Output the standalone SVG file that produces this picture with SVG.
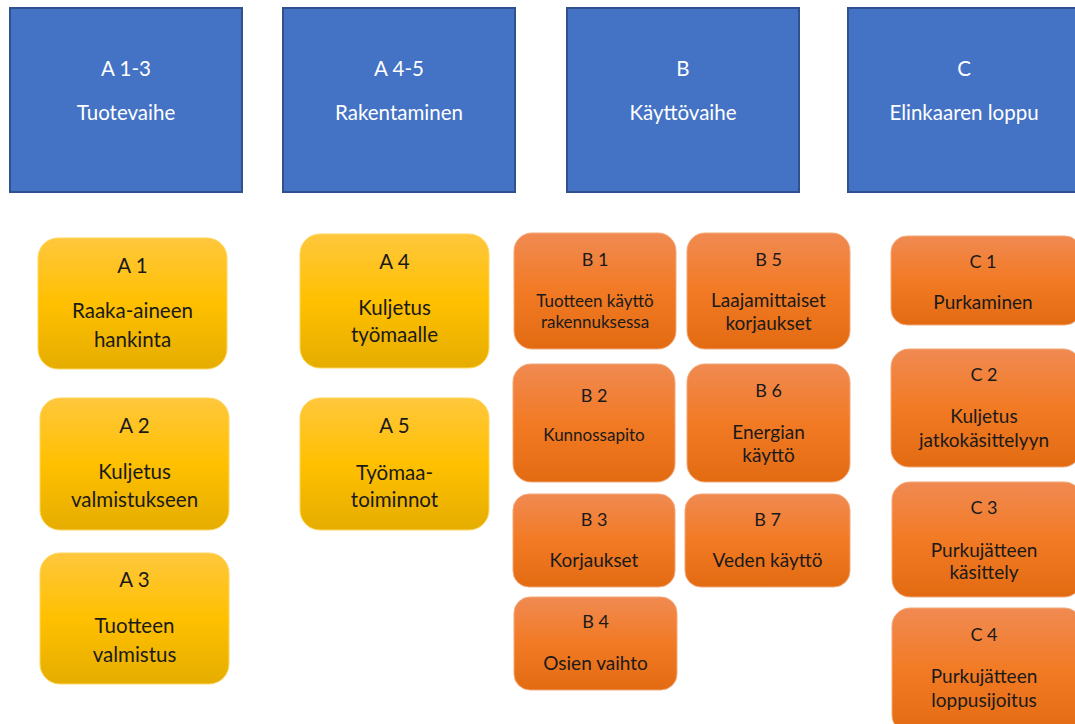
<svg xmlns="http://www.w3.org/2000/svg" width="1075" height="724" viewBox="0 0 1075 724">
<defs>
<linearGradient id="gy" x1="0" y1="0" x2="0" y2="1">
<stop offset="0" stop-color="#FFC73D"/>
<stop offset="0.5" stop-color="#FFC000"/>
<stop offset="1" stop-color="#E5AD00"/>
</linearGradient>
<linearGradient id="go" x1="0" y1="0" x2="0" y2="1">
<stop offset="0" stop-color="#F08A52"/>
<stop offset="0.5" stop-color="#F27A24"/>
<stop offset="1" stop-color="#E26B12"/>
</linearGradient>
<style>
.blue{fill:#4472C4;stroke:#2F528F;stroke-width:2}
.yel{fill:url(#gy);stroke:#FFD65E;stroke-width:1}
.ora{fill:url(#go);stroke:#F3A878;stroke-width:1}
text{font-family:Lato,"Liberation Sans",sans-serif;text-anchor:middle}
.wt{fill:#FFFFFF;font-size:20.5px}
.yt{fill:#1A1A1A;font-size:20.5px}
.ol{fill:#1A1A1A;font-size:18px}
.ot{fill:#1A1A1A;font-size:19px}
.os{fill:#1A1A1A;font-size:17px}
</style>
</defs>
<rect width="1075" height="724" fill="#FFFFFF"/>
<g id="connectors"/>
<g id="phase-A13">
<rect class="blue" x="10" y="8" width="232" height="184"/>
<text class="wt" x="126" y="76">A 1-3</text>
<text class="wt" x="126" y="120">Tuotevaihe</text>
</g>
<g id="phase-A45">
<rect class="blue" x="283" y="8" width="232" height="184"/>
<text class="wt" x="399" y="76">A 4-5</text>
<text class="wt" x="399" y="120">Rakentaminen</text>
</g>
<g id="phase-B">
<rect class="blue" x="567" y="8" width="232" height="184"/>
<text class="wt" x="683" y="76">B</text>
<text class="wt" x="683" y="120">Käyttövaihe</text>
</g>
<g id="phase-C">
<rect class="blue" x="848" y="8" width="232" height="184"/>
<text class="wt" x="964" y="76">C</text>
<text class="wt" x="964" y="120">Elinkaaren loppu</text>
</g>
<g id="A1">
<rect class="yel" x="38" y="238" width="189" height="131" rx="20"/>
<text class="yt" x="132.5" y="273">A 1</text>
<text class="yt" x="132.5" y="318">Raaka-aineen</text>
<text class="yt" x="132.5" y="347">hankinta</text>
</g>
<g id="A2">
<rect class="yel" x="40" y="398" width="189" height="132" rx="20"/>
<text class="yt" x="134.5" y="433">A 2</text>
<text class="yt" x="134.5" y="479">Kuljetus</text>
<text class="yt" x="134.5" y="507">valmistukseen</text>
</g>
<g id="A3">
<rect class="yel" x="40" y="553" width="189" height="131" rx="20"/>
<text class="yt" x="134.5" y="587">A 3</text>
<text class="yt" x="134.5" y="633">Tuotteen</text>
<text class="yt" x="134.5" y="662">valmistus</text>
</g>
<g id="A4">
<rect class="yel" x="300" y="234" width="189" height="134" rx="20"/>
<text class="yt" x="394.5" y="269">A 4</text>
<text class="yt" x="394.5" y="315">Kuljetus</text>
<text class="yt" x="394.5" y="342">työmaalle</text>
</g>
<g id="A5">
<rect class="yel" x="300" y="398" width="189" height="132" rx="20"/>
<text class="yt" x="394.5" y="433">A 5</text>
<text class="yt" x="394.5" y="480">Työmaa-</text>
<text class="yt" x="394.5" y="507">toiminnot</text>
</g>
<g id="B1">
<rect class="ora" x="514" y="233" width="162" height="116" rx="18"/>
<text class="ol" x="595" y="266">B 1</text>
<text class="os" x="595" y="307">Tuotteen käyttö</text>
<text class="os" x="595" y="328">rakennuksessa</text>
</g>
<g id="B2">
<rect class="ora" x="513" y="364" width="162" height="118" rx="18"/>
<text class="ol" x="594" y="402">B 2</text>
<text class="os" x="594" y="441">Kunnossapito</text>
</g>
<g id="B3">
<rect class="ora" x="513" y="494" width="162" height="93" rx="16"/>
<text class="ol" x="594" y="526">B 3</text>
<text class="ot" x="594" y="567">Korjaukset</text>
</g>
<g id="B4">
<rect class="ora" x="514" y="597" width="163" height="93" rx="16"/>
<text class="ol" x="595.5" y="628">B 4</text>
<text class="ot" x="595.5" y="670">Osien vaihto</text>
</g>
<g id="B5">
<rect class="ora" x="687" y="233" width="163" height="116" rx="18"/>
<text class="ol" x="768.5" y="266">B 5</text>
<text class="ot" x="768.5" y="307">Laajamittaiset</text>
<text class="ot" x="768.5" y="330">korjaukset</text>
</g>
<g id="B6">
<rect class="ora" x="687" y="364" width="163" height="118" rx="18"/>
<text class="ol" x="768.5" y="397">B 6</text>
<text class="ot" x="768.5" y="439">Energian</text>
<text class="ot" x="768.5" y="462">käyttö</text>
</g>
<g id="B7">
<rect class="ora" x="685" y="494" width="165" height="93" rx="16"/>
<text class="ol" x="767.5" y="526">B 7</text>
<text class="ot" x="767.5" y="567">Veden käyttö</text>
</g>
<g id="C1">
<rect class="ora" x="891" y="236" width="190" height="89" rx="16"/>
<text class="ol" x="983" y="268">C 1</text>
<text class="ot" x="983" y="309">Purkaminen</text>
</g>
<g id="C2">
<rect class="ora" x="891" y="349" width="190" height="118" rx="18"/>
<text class="ol" x="984" y="381">C 2</text>
<text class="ot" x="984" y="423">Kuljetus</text>
<text class="ot" x="984" y="447">jatkokäsittelyyn</text>
</g>
<g id="C3">
<rect class="ora" x="892" y="482" width="190" height="115" rx="18"/>
<text class="ol" x="984" y="514">C 3</text>
<text class="ot" x="984" y="557">Purkujätteen</text>
<text class="ot" x="984" y="579">käsittely</text>
</g>
<g id="C4">
<rect class="ora" x="892" y="608" width="190" height="125" rx="18"/>
<text class="ol" x="984" y="641">C 4</text>
<text class="ot" x="984" y="683">Purkujätteen</text>
<text class="ot" x="984" y="707">loppusijoitus</text>
</g>
</svg>
